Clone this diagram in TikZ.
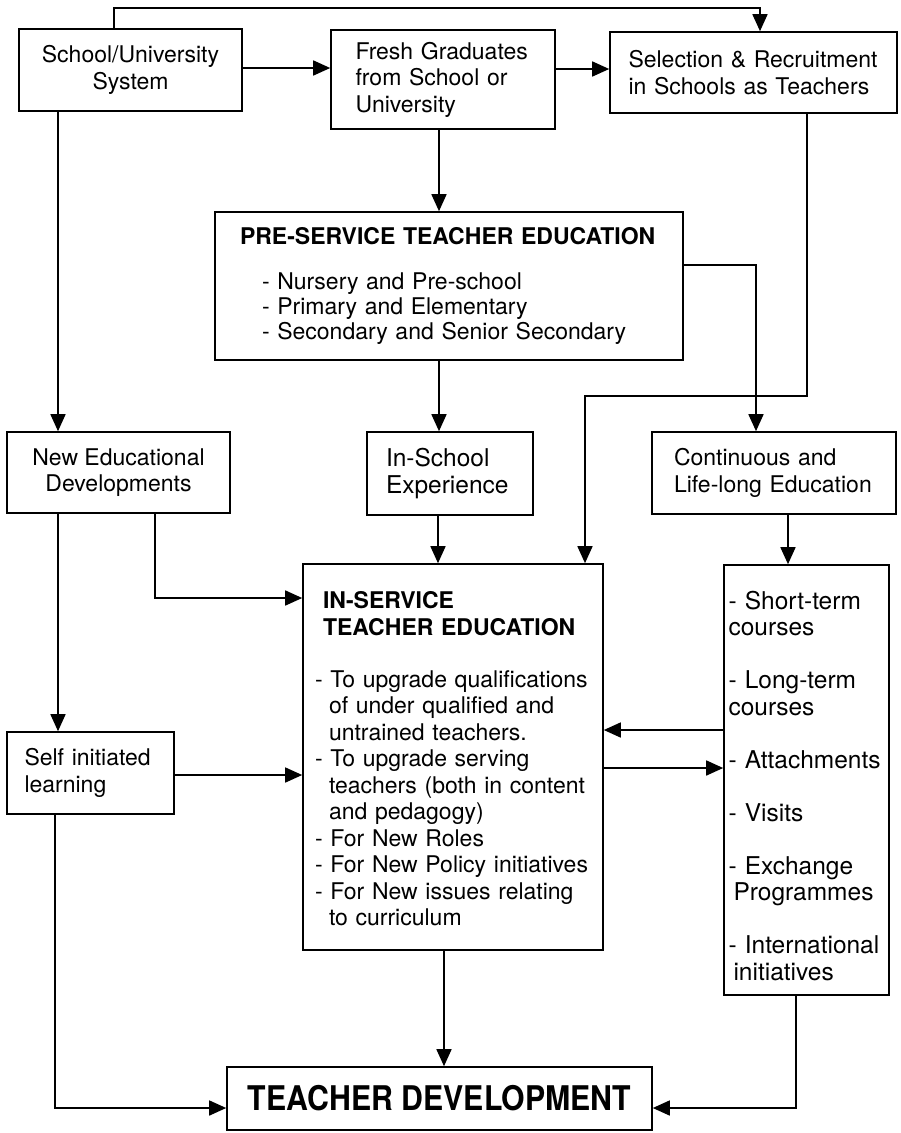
\documentclass[tikz,border=0pt]{standalone}
\usepackage{fontspec}
\usepackage{graphicx}
\setmainfont{TeX Gyre Heros}
\usetikzlibrary{arrows.meta}
\begin{document}
\begin{tikzpicture}[x=1pt,y=-1pt,
  box/.style={draw, line width=1.6pt, inner sep=0pt, font=\fontsize{23}{26.5}\selectfont},
  bigtext/.style={font=\fontsize{24.5}{26.5}\selectfont},
  arr/.style={line width=1.6pt, -{Triangle[length=17pt,width=15pt]}}]
\fill[white] (0,0) rectangle (900,1133);
\useasboundingbox (0,0) rectangle (900,1133);

\node[box, minimum width=223pt, minimum height=82pt, align=center] (A) at (130.5,70) {School/University\\System};
\node[box, minimum width=224pt, minimum height=99pt, text width=175pt, align=left] (B) at (443,79.5) {Fresh Graduates\\from School or\\University};
\node[box, minimum width=287pt, minimum height=81pt, text width=250pt, align=left] (C) at (753.5,72.5) {Selection \& Recruitment\\in Schools as Teachers};

\node[box, minimum width=468pt, minimum height=148pt, text width=418pt, align=left] (P) at (449,286)
  {{\bfseries PRE-SERVICE TEACHER EDUCATION}\\[18pt]
   \hspace*{22pt}- Nursery and Pre-school\\[-1.5pt]
   \hspace*{22pt}- Primary and Elementary\\[-1.5pt]
   \hspace*{22pt}- Secondary and Senior Secondary};

\node[box, minimum width=223pt, minimum height=81pt, align=center] (NED) at (118.5,472.5) {New Educational\\Developments};
\node[box, bigtext, minimum width=166pt, minimum height=83pt, text width=128pt, align=left] (ISE) at (450,473.5) {In-School\\Experience};
\node[box, minimum width=244pt, minimum height=82pt, text width=200pt, align=left] (CLE) at (774,473) {Continuous and\\Life-long Education};

\node[box, minimum width=300pt, minimum height=386pt, text width=276pt, align=left] (ISTE) at (453,757)
  {\rule{0pt}{21pt}\hspace*{8pt}{\bfseries IN-SERVICE}\\[0.5pt]
   \hspace*{8pt}{\bfseries TEACHER EDUCATION}\\[25pt]
   - To upgrade qualifications\\
   \hspace*{14pt}of under qualified and\\
   \hspace*{14pt}untrained teachers.\\
   - To upgrade serving\\
   \hspace*{14pt}teachers (both in content\\
   \hspace*{14pt}and pedagogy)\\
   - For New Roles\\
   - For New Policy initiatives\\
   - For New issues relating\\
   \hspace*{14pt}to curriculum};

\node[box, minimum width=167pt, minimum height=82pt, text width=132pt, align=left] (SIL) at (90.5,773) {Self initiated\\learning};

\node[box, bigtext, minimum width=165pt, minimum height=430pt, text width=156pt, align=left] (RB) at (806.5,780)
  {\rule{0pt}{30pt}- Short-term\\
   courses\\[26.5pt]
   - Long-term\\
   courses\\[26.5pt]
   - Attachments\\[26.5pt]
   - Visits\\[26.5pt]
   - Exchange\\
   \hspace*{5pt}Programmes\\[26.5pt]
   - International\\
   \hspace*{5pt}initiatives};

\node[box, minimum width=425pt, minimum height=63pt, font=\fontsize{34}{40}\selectfont\bfseries] (TD) at (439.5,1098.5) {\scalebox{0.89}[1]{TEACHER DEVELOPMENT}};

% connectors
\draw[arr] (A.north -| 114,0) -- (114,8) -- (760,8) -- (C.north -| 760,0);
\draw[arr] (A.east |- 0,68) -- (B.west |- 0,68);
\draw[arr] (B.east |- 0,69) -- (C.west |- 0,69);
\draw[arr] (B.south -| 439,0) -- (P.north -| 439,0);
\draw[arr] (A.south -| 58,0) -- (NED.north -| 58,0);
\draw[arr] (C.south -| 807,0) -- (807,396) -- (585,396) -- (ISTE.north -| 585,0);
\draw[arr] (P.east |- 0,265) -- (756,265) -- (CLE.north -| 756,0);
\draw[arr] (P.south -| 439,0) -- (ISE.north -| 439,0);
\draw[arr] (ISE.south -| 438,0) -- (ISTE.north -| 438,0);
\draw[arr] (NED.south -| 155,0) -- (155,598) -- (ISTE.west |- 0,598);
\draw[arr] (NED.south -| 58,0) -- (SIL.north -| 58,0);
\draw[arr] (SIL.east |- 0,775) -- (ISTE.west |- 0,775);
\draw[arr] (CLE.south -| 788,0) -- (RB.north -| 788,0);
\draw[arr] (RB.west |- 0,730) -- (ISTE.east |- 0,730);
\draw[arr] (ISTE.east |- 0,768) -- (RB.west |- 0,768);
\draw[arr] (ISTE.south -| 444,0) -- (TD.north -| 444,0);
\draw[arr] (SIL.south -| 55,0) -- (55,1108) -- (TD.west |- 0,1108);
\draw[arr] (RB.south -| 796,0) -- (796,1108) -- (TD.east |- 0,1108);
\end{tikzpicture}
\end{document}
